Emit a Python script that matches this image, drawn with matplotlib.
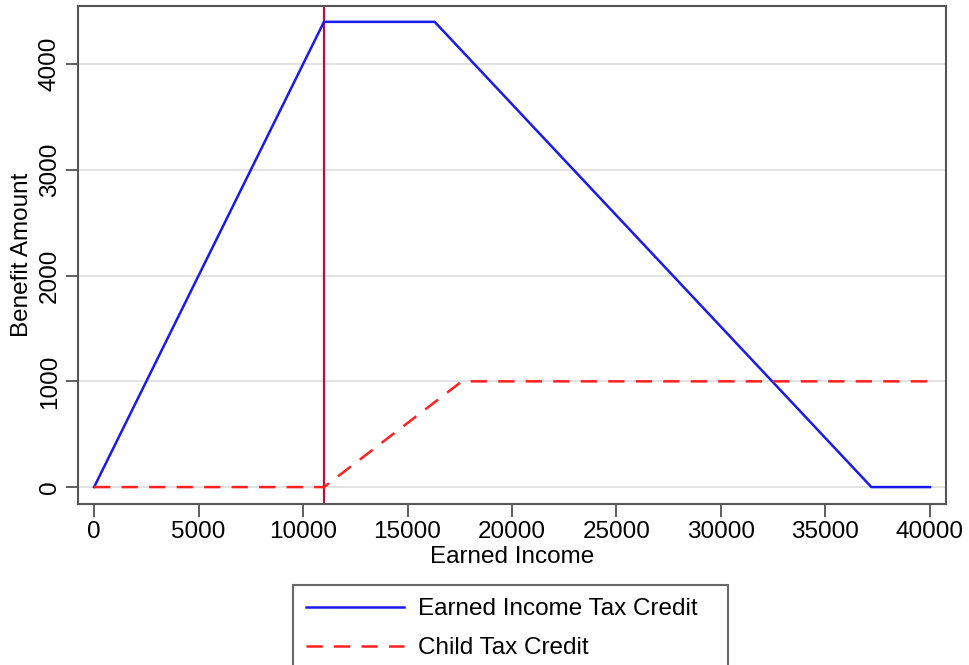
import matplotlib.pyplot as plt

plt.rcParams['font.family'] = ['Liberation Sans', 'DejaVu Sans']

# EITC schedule (kink points)
eitc_x = [0, 11000, 16300, 37200, 40000]
eitc_y = [0, 4400, 4400, 0, 0]

# child tax credit schedule
ctc_x = [0, 11000, 17600, 40000]
ctc_y = [0, 0, 1000, 1000]

vline_x = 11000
x_ticks = [0, 5000, 10000, 15000, 20000, 25000, 30000, 35000, 40000]
y_ticks = [0, 1000, 2000, 3000, 4000]

fig = plt.figure(figsize=(9.7, 6.65), dpi=100)
ax = fig.add_axes([78/970, 1 - 504/665, (946 - 78)/970, (504 - 6)/665])

ax.grid(axis='y', color='#dddddd', linewidth=1.2, zorder=0)
ax.axvline(vline_x, color='#b8123c', linewidth=1.6, zorder=2)
l1, = ax.plot(eitc_x, eitc_y, color='#1a1aee', linewidth=1.8, zorder=3,
              label='Earned Income Tax Credit')
l2, = ax.plot(ctc_x, ctc_y, color='#ff2020', linewidth=1.8, dashes=(6.5, 4.5), zorder=3,
              label='Child Tax Credit')

ax.set_xlim(-770, 40770)
ax.set_ylim(-160, 4550)
ax.set_xticks(x_ticks)
ax.set_yticks(y_ticks)
ax.tick_params(labelsize=17.5, length=9, width=1.2, color='#444444')
for lab in ax.get_yticklabels():
    lab.set_rotation(90)
    lab.set_va('center')
for s in ax.spines.values():
    s.set_color('#555555')
    s.set_linewidth(1.5)

ax.set_xlabel('Earned Income', fontsize=17.5, labelpad=2)
ax.set_ylabel('Benefit Amount', fontsize=17.5, labelpad=4)

top = 1 - 585/665
leg = fig.legend(handles=[l1, l2], loc='upper left',
                 bbox_to_anchor=(293/970, top - 0.3, (728 - 293)/970, 0.3),
                 mode='expand', borderaxespad=0, fontsize=17.5, handlelength=4.0,
                 handletextpad=0.6, labelspacing=0.7, borderpad=0.55,
                 fancybox=False, frameon=True)
leg.get_frame().set_edgecolor('#444444')
leg.get_frame().set_linewidth(1.5)

fig.savefig('out.png', dpi=100)
